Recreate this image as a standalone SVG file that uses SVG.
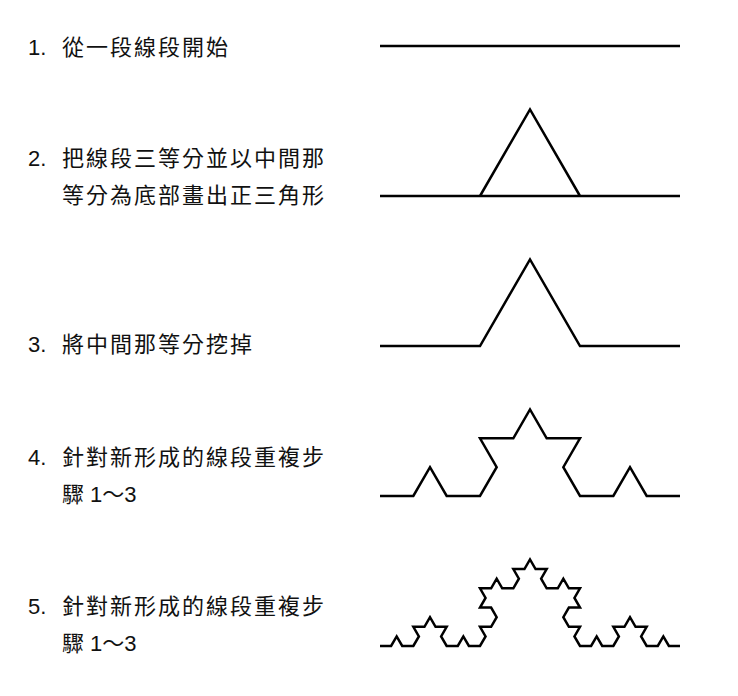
<svg xmlns="http://www.w3.org/2000/svg" width="738" height="696" viewBox="0 0 738 696">
<style>
text{font-family:"Liberation Sans","Noto Sans CJK TC",sans-serif;font-size:22px;fill:#111}
.t{letter-spacing:2px}
.k{fill:none;stroke:#000;stroke-width:2.5;stroke-linejoin:miter}
</style>
<rect width="738" height="696" fill="#fff"/>
<g id="step1"><text x="28" y="55">1.</text><text class="t" x="62" y="55">從一段線段開始</text>
<path class="k" d="M380 46H680"/></g>
<g id="step2"><text x="28" y="166">2.</text><text class="t" x="62" y="166">把線段三等分並以中間那</text><text class="t" x="62" y="203">等分為底部畫出正三角形</text>
<path class="k" d="M380 196H680M480 196L530 109.4L580 196"/></g>
<g id="step3"><text x="28" y="352">3.</text><text class="t" x="62" y="352">將中間那等分挖掉</text>
<path class="k" d="M380 346H480L530 259.4L580 346H680"/></g>
<g id="step4"><text x="28" y="465">4.</text><text class="t" x="62" y="465">針對新形成的線段重複步</text><text x="62" y="502">驟 1～3</text>
<path class="k" d="M380 496L413.33 496L430 467.13L446.67 496L480 496L496.67 467.13L480 438.26L513.33 438.26L530 409.39L546.67 438.26L580 438.26L563.33 467.13L580 496L613.33 496L630 467.13L646.67 496L680 496"/></g>
<g id="step5"><text x="28" y="614">5.</text><text class="t" x="62" y="614">針對新形成的線段重複步</text><text x="62" y="651">驟 1～3</text>
<path class="k" vector-effect="non-scaling-stroke" transform="translate(380 646) scale(5.5556)" d="M0 0l2 0 1 -1.732 1 1.732 2 0 1 -1.732 -1 -1.732 2 0 1 -1.732 1 1.732 2 0 -1 1.732 1 1.732 2 0 1 -1.732 1 1.732 2 0 1 -1.732 -1 -1.732 2 0 1 -1.732 -1 -1.732 -2 0 1 -1.732 -1 -1.732 2 0 1 -1.732 1 1.732 2 0 1 -1.732 -1 -1.732 2 0 1 -1.732 1 1.732 2 0 -1 1.732 1 1.732 2 0 1 -1.732 1 1.732 2 0 -1 1.732 1 1.732 -2 0 -1 1.732 1 1.732 2 0 -1 1.732 1 1.732 2 0 1 -1.732 1 1.732 2 0 1 -1.732 -1 -1.732 2 0 1 -1.732 1 1.732 2 0 -1 1.732 1 1.732 2 0 1 -1.732 1 1.732 2 0"/></g>
</svg>
